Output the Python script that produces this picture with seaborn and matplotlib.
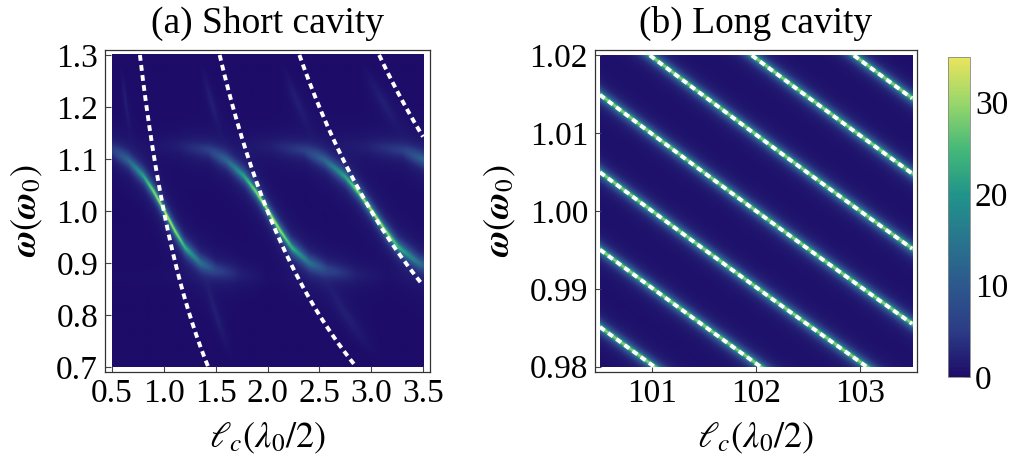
import numpy as np
import matplotlib
matplotlib.use("Agg")
import matplotlib.pyplot as plt
from matplotlib.colors import LinearSegmentedColormap, Normalize
import seaborn as sns

# ---- plot ranges -------------------------------------------------------
short_ell_range = [0.5, 3.5]
short_omega_range = [0.7, 1.3]
long_ell_range = [100.5, 103.5]
long_omega_range = [0.98, 1.02]

# ---- ticks ----------------------------------------------------------------
short_xticks = [0.5, 1.0, 1.5, 2.0, 2.5, 3.0, 3.5]
short_yticks = [0.7, 0.8, 0.9, 1.0, 1.1, 1.2, 1.3]
long_xticks = [101, 102, 103]
long_yticks = [0.98, 0.99, 1.00, 1.01, 1.02]
cbar_ticks = [0, 10, 20, 30]
cbar_max = 35

# ---- bare cavity modes (dashed): omega = m / l_c ---------------------------
short_orders = [1, 2, 3, 4]
long_orders = [99, 100, 101, 102, 103, 104, 105]

# ---- hybrid branch crossing each mode at omega = 1 ---------------------------
# offset from l_c = m, branch frequency, peak intensity and half width
branch_offset = [-1.0, -0.75, -0.5, -0.35, -0.2, -0.1, 0.0, 0.1, 0.2, 0.35, 0.5, 0.75, 1.0]
branch_omega = [1.127, 1.124, 1.116, 1.097, 1.066, 1.036, 1.0, 0.962, 0.929, 0.899, 0.885, 0.877, 0.875]
branch_peak = [0.0, 1.5, 5.0, 12.0, 22.0, 30.0, 34.0, 31.0, 24.0, 14.0, 6.0, 1.5, 0.0]
branch_width = [0.022, 0.018, 0.014, 0.011, 0.009, 0.008, 0.0075, 0.008, 0.009, 0.011, 0.014, 0.018, 0.022]
branch_stretch = [1.0, 1.15, 1.3, 1.4]

# faint replicas of the modes above and below the branch
upper_shift, upper_center, upper_peak = 0.2, 1.21, 1.8
lower_shift, lower_center, lower_peak = -0.25, 0.80, 1.8
faint_band_omega = [1.12, 0.872]
faint_band_peak = [0.3, 0.3]

# ---- long cavity resonances -----------------------------------------------
long_peak = 30.0
long_width = 0.00045

# ---- colour scale ---------------------------------------------------------
cmap_levels = [0, 5, 10, 15, 20, 25, 30, 35]
cmap_colors = ["#1d0c68", "#2c3c86", "#2d588d", "#28758e",
               "#21948a", "#45b978", "#98d66b", "#eae45c"]


def short_field(n=330):
    ell = np.linspace(*short_ell_range, n)
    om = np.linspace(*short_omega_range, n)
    L, W = np.meshgrid(ell, om)
    F = np.zeros_like(L)
    for m, s in zip(short_orders, branch_stretch):
        d = (L - m) / s
        wc = np.interp(d, branch_offset, branch_omega)
        amp = np.interp(d, branch_offset, branch_peak)
        hw = np.interp(d, branch_offset, branch_width)
        F += amp / (1 + ((W - wc) / hw) ** 2)
        # faint replica above omega_0
        wu = m / (L + upper_shift)
        F += upper_peak * np.exp(-((W - upper_center) / 0.05) ** 2) / (1 + ((W - wu) / 0.02) ** 2)
        # faint replica below omega_0
        wl = m / (L + lower_shift)
        F += lower_peak * np.exp(-((W - lower_center) / 0.06) ** 2) / (1 + ((W - wl) / 0.02) ** 2)
    for wb, pb in zip(faint_band_omega, faint_band_peak):
        F += pb / (1 + ((W - wb) / 0.02) ** 2)
    return F


def long_field(n=330):
    ell = np.linspace(*long_ell_range, n)
    om = np.linspace(*long_omega_range, n)
    L, W = np.meshgrid(ell, om)
    F = np.zeros_like(L)
    for m in long_orders:
        F += long_peak / (1 + ((W - m / L) / long_width) ** 2)
    return F


sns.set_theme(style="ticks")
plt.rcParams["font.family"] = ["Liberation Serif", "DejaVu Serif"]
plt.rcParams["mathtext.fontset"] = "stix"
plt.rcParams["xtick.direction"] = "in"
plt.rcParams["ytick.direction"] = "in"
plt.rcParams["text.color"] = "black"
plt.rcParams["axes.labelcolor"] = "black"
plt.rcParams["xtick.labelcolor"] = "black"
plt.rcParams["ytick.labelcolor"] = "black"

cmap = LinearSegmentedColormap.from_list(
    "cav", list(zip(np.array(cmap_levels) / cbar_max, cmap_colors)))
norm = Normalize(0, cbar_max)

W_px, H_px = 1022, 469
fig = plt.figure(figsize=(W_px / 100, H_px / 100), dpi=100)


def frac(x0, y0, x1, y1):
    return [x0 / W_px, 1 - y1 / H_px, (x1 - x0) / W_px, (y1 - y0) / H_px]


ax1 = fig.add_axes(frac(105, 50, 430, 372))
ax2 = fig.add_axes(frac(595, 50, 917, 372))
cax = fig.add_axes(frac(948, 57, 970, 377))


def draw_panel(ax, field, xr, yr, orders, pad_x, pad_y, xticks, yticks, yfmt, title):
    ax.imshow(field, origin="lower", extent=[xr[0], xr[1], yr[0], yr[1]],
              cmap=cmap, norm=norm, aspect="auto", interpolation="bilinear")
    for m in orders:
        lo = max(xr[0], m / yr[1])
        hi = min(xr[1], m / yr[0])
        if hi <= lo:
            continue
        ell = np.linspace(lo, hi, 400)
        sns.lineplot(x=ell, y=m / ell, ax=ax, color="white", lw=2.8,
                     linestyle=(0, (1.5, 1.1)), sort=False, estimator=None,
                     dash_capstyle="butt")
    ax.set_xlim(xr[0] - pad_x, xr[1] + pad_x)
    ax.set_ylim(yr[0] - pad_y, yr[1] + pad_y)
    ax.set_xticks(xticks)
    ax.set_yticks(yticks)
    ax.set_yticklabels([yfmt.format(v) for v in yticks])
    ax.set_xticklabels([f"{v:g}" if isinstance(v, int) else f"{v:.1f}" for v in xticks])
    ax.tick_params(length=4, width=0.8, labelsize=24, pad=5, color="#444444")
    for sp in ax.spines.values():
        sp.set_color("#333333")
        sp.set_linewidth(0.9)
    ax.set_xlabel(r"$\ell_c(\lambda_0/2)$", fontsize=26, labelpad=8)
    ax.set_ylabel(r"$\boldsymbol{\omega}(\boldsymbol{\omega}_0)$", fontsize=26, labelpad=8)
    ax.set_title(title, fontsize=27, pad=12)


draw_panel(ax1, short_field(), short_ell_range, short_omega_range, short_orders,
           0.0675, 0.0096, short_xticks, short_yticks, "{:.1f}", "(a) Short cavity")
draw_panel(ax2, long_field(), long_ell_range, long_omega_range, long_orders,
           0.048, 0.0007, long_xticks, long_yticks, "{:.2f}", "(b) Long cavity")

sm = plt.cm.ScalarMappable(norm=norm, cmap=cmap)
cb = fig.colorbar(sm, cax=cax, ticks=cbar_ticks)
cb.ax.tick_params(labelsize=24, length=4, width=0.6, direction="in", color="#777777")
cb.ax.set_yticks(np.arange(0, 35, 2), minor=True)
cb.ax.tick_params(which="minor", length=2, width=0.5, direction="in", color="#999999")
cb.outline.set_edgecolor("#888888")
cb.outline.set_linewidth(0.6)

fig.savefig("out.png", dpi=100)
